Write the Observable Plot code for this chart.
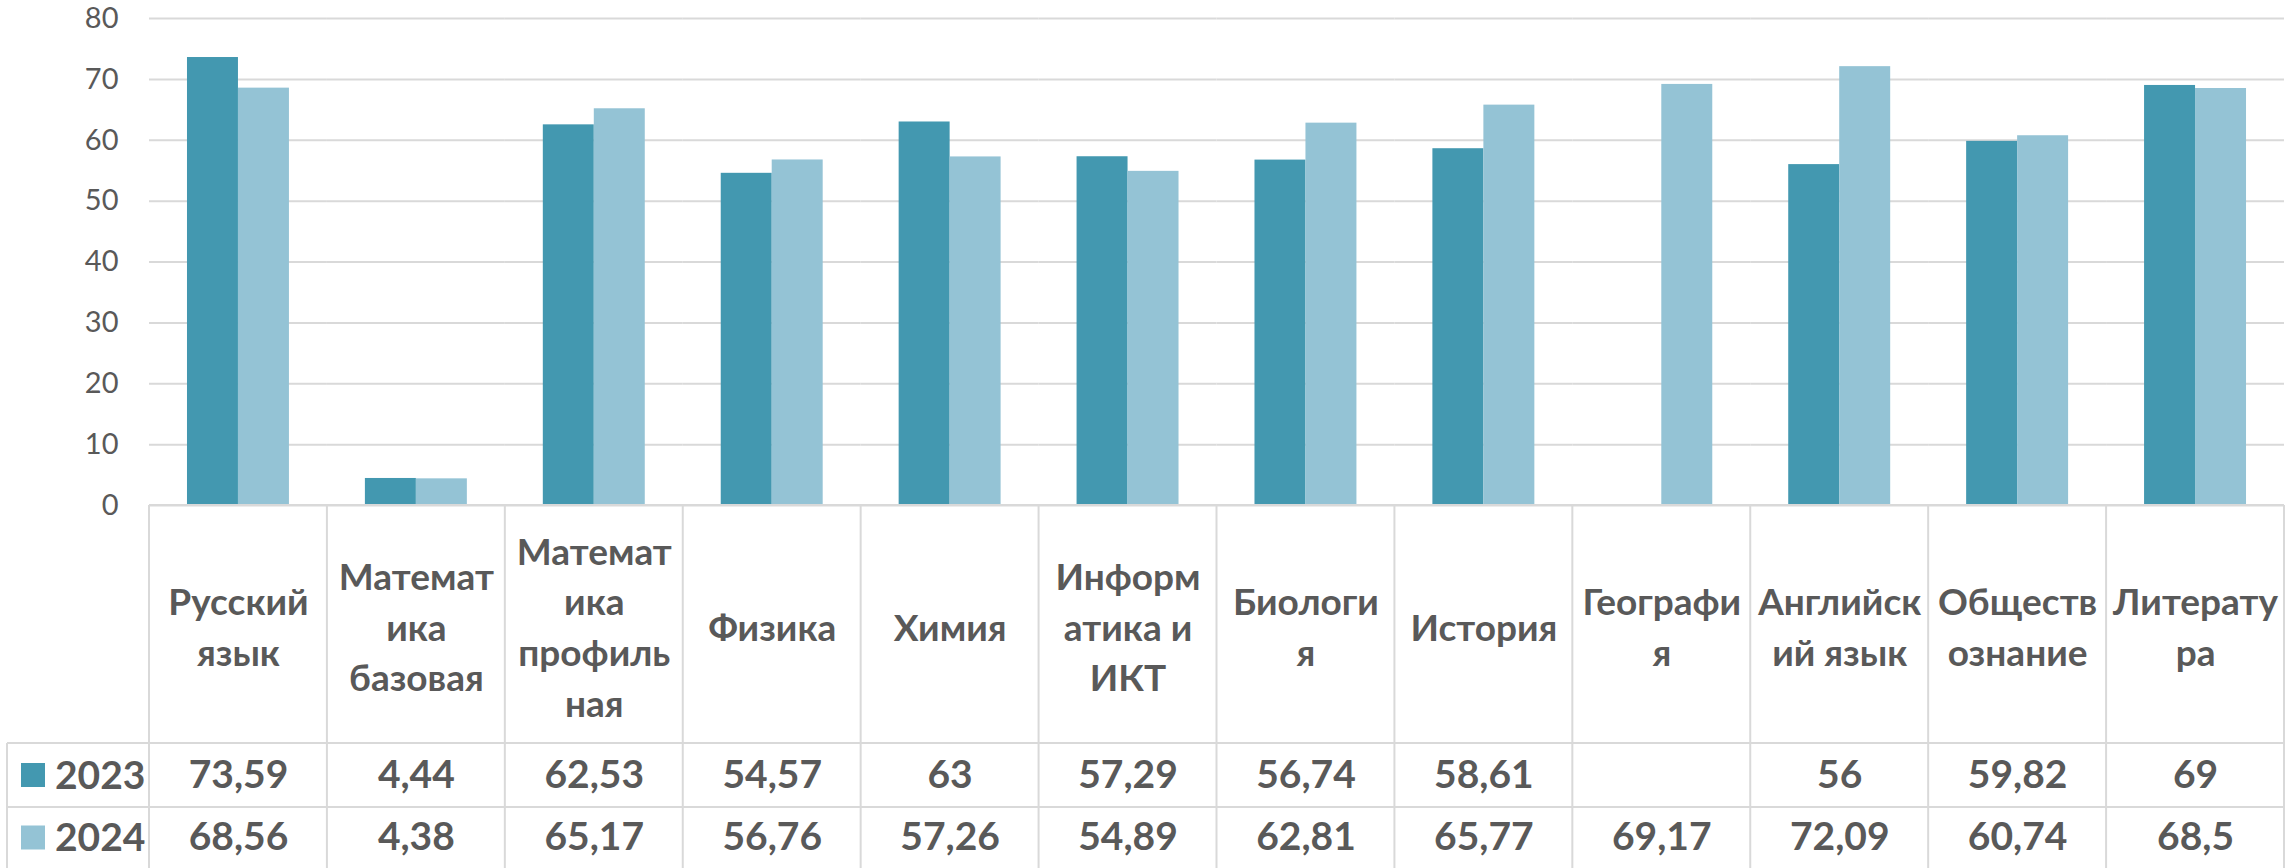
<!DOCTYPE html>
<html>
<head>
<meta charset="utf-8">
<script src="https://cdn.jsdelivr.net/npm/d3@7"></script>
<script src="https://cdn.jsdelivr.net/npm/@observablehq/plot@0.6"></script>
<style>
  html, body { margin: 0; padding: 0; background: #fff; }
</style>
</head>
<body>
<div id="chart"></div>
<script>
// ---- data ----
const subjects = ["Русский язык", "Математика базовая", "Математика профильная", "Физика", "Химия",
  "Информатика и ИКТ", "Биология", "История", "География", "Английский язык", "Обществознание", "Литература"];
const subjectLines = [
  ["Русский", "язык"], ["Математ", "ика", "базовая"], ["Математ", "ика", "профиль", "ная"],
  ["Физика"], ["Химия"], ["Информ", "атика и", "ИКТ"], ["Биологи", "я"], ["История"],
  ["Географи", "я"], ["Английск", "ий язык"], ["Обществ", "ознание"], ["Литерату", "ра"]
];
const years = ["2023", "2024"];
const values2023 = [73.59, 4.44, 62.53, 54.57, 63, 57.29, 56.74, 58.61, null, 56, 59.82, 69];
const values2024 = [68.56, 4.38, 65.17, 56.76, 57.26, 54.89, 62.81, 65.77, 69.17, 72.09, 60.74, 68.5];
const yTicks = [0, 10, 20, 30, 40, 50, 60, 70, 80];
const colors = ["#4398B0", "#94C3D5"];

// ---- derived table ----
const seriesValues = [values2023, values2024];
const tidy = subjects.flatMap((s, i) => years.map((y, k) => ({subject: s, year: y, value: seriesValues[k][i]})))
  .filter(d => d.value != null);
const fmt = v => v == null ? "" : String(v).replace(".", ",");

const W = 2291, H = 868;
const mL = 149, mR = 7, mT = 18, mB = 363;
const textColor = "#595959";
const lineColor = "#D9D9D9";
const headerH = 238, rowH1 = 64;
const FONT = "Lato, 'Open Sans', sans-serif";
const labelSize = 37, valueSize = 39;

const chart = Plot.plot({
  width: W, height: H,
  marginLeft: mL, marginRight: mR, marginTop: mT, marginBottom: mB,
  style: {fontFamily: FONT, fontSize: "29px", color: textColor, background: "#fff", overflow: "visible"},
  fx: {domain: subjects, padding: 0, round: false, axis: null, label: null},
  x: {domain: years, paddingInner: 0, paddingOuter: 0.745, round: false, axis: null, label: null},
  y: {domain: [0, 80], ticks: yTicks, tickSize: 0, tickPadding: 31, label: null, tickFormat: d => String(d)},
  color: {domain: years, range: colors},
  marks: [
    Plot.gridY(yTicks, {stroke: lineColor, strokeOpacity: 1, strokeWidth: 2}),
    Plot.barY(tidy, {fx: "subject", x: "year", y: "value", fill: "year"}),
    Plot.text(subjects, {
      fx: d => d, frameAnchor: "bottom", dy: headerH / 2, lineAnchor: "middle",
      text: (d, i) => subjectLines[i].join("\n"),
      fontSize: labelSize, fontWeight: "bold", lineHeight: 1.37, fill: textColor
    }),
    Plot.text(subjects, {
      fx: d => d, frameAnchor: "bottom", dy: headerH + rowH1 / 2, lineAnchor: "middle",
      text: (d, i) => fmt(values2023[i]),
      fontSize: valueSize, fontWeight: "bold", fill: textColor
    }),
    Plot.text(subjects, {
      fx: d => d, frameAnchor: "bottom", dy: headerH + rowH1 + (mB - headerH - rowH1) / 2, lineAnchor: "middle",
      text: (d, i) => fmt(values2024[i]),
      fontSize: valueSize, fontWeight: "bold", fill: textColor
    })
  ]
});

document.getElementById("chart").appendChild(chart);

// ---- table grid lines and row legend ----
const svg = d3.select(chart);
const fx = chart.scale("fx");
const bw = fx.bandwidth;
const x0 = fx.apply(subjects[0]);
const x1 = fx.apply(subjects[subjects.length - 1]) + bw;
const yTop = H - mB;
const yHead = yTop + headerH;
const yRow = yHead + rowH1;
const legendLeft = 7;

const g = svg.append("g").attr("stroke", lineColor).attr("stroke-width", 2).attr("fill", "none");
g.append("line").attr("x1", x0).attr("x2", x1).attr("y1", yTop).attr("y2", yTop);
g.append("line").attr("x1", legendLeft).attr("x2", x1).attr("y1", yHead).attr("y2", yHead);
g.append("line").attr("x1", legendLeft).attr("x2", x1).attr("y1", yRow).attr("y2", yRow);
g.append("line").attr("x1", legendLeft).attr("x2", legendLeft).attr("y1", yHead).attr("y2", H);
subjects.forEach(s => {
  const x = fx.apply(s);
  g.append("line").attr("x1", x).attr("x2", x).attr("y1", yTop).attr("y2", H);
});
g.append("line").attr("x1", x1).attr("x2", x1).attr("y1", yTop).attr("y2", H);

const rowCenters = [yHead + rowH1 / 2, yRow + (H - yRow) / 2];
years.forEach((yr, k) => {
  const cy = rowCenters[k];
  svg.append("rect").attr("x", 21).attr("y", cy - 12).attr("width", 24).attr("height", 24).attr("fill", colors[k]);
  svg.append("text").attr("x", 55).attr("y", cy).attr("dy", "0.35em")
    .attr("text-anchor", "start")
    .attr("font-size", valueSize).attr("font-weight", "bold").attr("fill", textColor)
    .attr("font-family", FONT).text(yr);
});
</script>
</body>
</html>
